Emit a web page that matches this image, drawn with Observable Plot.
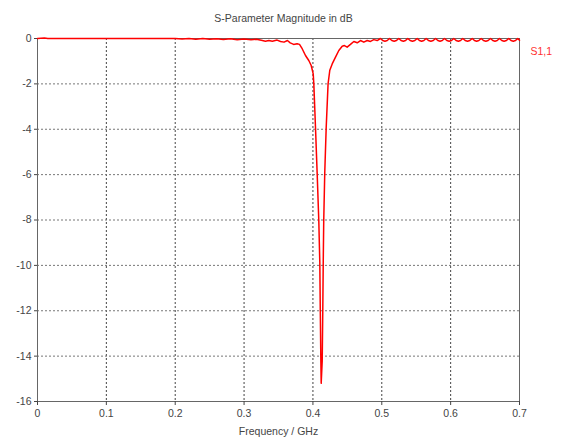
<!DOCTYPE html>
<html>
<head>
<meta charset="utf-8">
<script src="https://cdn.jsdelivr.net/npm/d3@7"></script>
<script src="https://cdn.jsdelivr.net/npm/@observablehq/plot@0.6"></script>
<style>
  html, body { margin: 0; padding: 0; background: white; }
</style>
</head>
<body>
<div id="chart"></div>
<script>
const title = "S-Parameter Magnitude in dB";
const xLabel = "Frequency / GHz";
const seriesName = "S1,1";
const xTicks = [0, 0.1, 0.2, 0.3, 0.4, 0.5, 0.6, 0.7];
const yTicks = [0, -2, -4, -6, -8, -10, -12, -14, -16];

const freq = [
  0, 0.005, 0.01, 0.015, 0.03, 0.06, 0.1, 0.15, 0.2, 0.21, 0.22, 0.23, 0.24, 0.25, 0.26, 0.27, 0.28, 0.29, 0.30, 0.31,
  0.318, 0.325, 0.331, 0.336, 0.341, 0.348, 0.353, 0.358, 0.363, 0.367, 0.372, 0.377, 0.3805, 0.3844, 0.3892, 0.394,
  0.3975, 0.4004, 0.4013, 0.4037, 0.4061, 0.4085, 0.41, 0.4107, 0.4115, 0.412, 0.4135, 0.4143, 0.415, 0.4157, 0.4172,
  0.4193, 0.422, 0.4245, 0.428, 0.4328, 0.4376, 0.4425, 0.4458, 0.4497, 0.4545, 0.4594, 0.4643, 0.4691, 0.4739, 0.4788,
  0.4836, 0.4884, 0.4933,
  0.498, 0.5013, 0.5046, 0.5079, 0.5112, 0.5146, 0.518, 0.5213, 0.5247, 0.528, 0.5313, 0.5345, 0.5378, 0.5412, 0.5446,
  0.548, 0.5514, 0.5547, 0.5579, 0.5611, 0.5644, 0.5678, 0.5713, 0.5747, 0.5781, 0.5814, 0.5846, 0.5878, 0.5911, 0.5945,
  0.5979, 0.6012, 0.6046, 0.6079, 0.6112, 0.6144, 0.6177, 0.6211, 0.6245, 0.6279, 0.6313, 0.6346, 0.6378, 0.641, 0.6443,
  0.6477, 0.6511, 0.6545, 0.6579, 0.6612, 0.6644, 0.6676, 0.6709, 0.6743, 0.6776, 0.681, 0.6844, 0.6877, 0.691, 0.6942,
  0.6975, 0.7
];
const s11 = [
  0, 0.01, 0.02, 0, 0, 0, 0, 0, 0, -0.02, 0, -0.03, 0, -0.03, -0.01, -0.04, -0.01, -0.05, -0.02, -0.06,
  -0.03, -0.08, -0.12, -0.09, -0.12, -0.07, -0.13, -0.16, -0.09, -0.19, -0.26, -0.23, -0.26, -0.45, -0.75, -0.97,
  -1.19, -1.56, -2.0, -3.9, -5.9, -8.0, -9.9, -12.0, -14.2, -15.2, -14.2, -12.0, -9.8, -8.0, -5.9,
  -3.9, -2.0, -1.4, -1.12, -0.82, -0.53, -0.34, -0.31, -0.38, -0.26, -0.13, -0.19, -0.09, -0.16, -0.09,
  -0.13, -0.05, -0.09,
  0, -0.09, -0.12, -0.09, 0, -0.09, -0.12, -0.09, 0, -0.09, -0.12, -0.09, 0, -0.09, -0.12,
  -0.09, 0, -0.09, -0.12, -0.09, 0, -0.09, -0.12, -0.09, 0, -0.09, -0.12, -0.09, 0, -0.09,
  -0.12, -0.09, 0, -0.09, -0.12, -0.09, 0, -0.09, -0.12, -0.09, 0, -0.09, -0.12, -0.09, 0,
  -0.09, -0.12, -0.09, 0, -0.09, -0.12, -0.09, 0, -0.09, -0.12, -0.09, 0, -0.09, -0.12, -0.09,
  0, -0.08
];

const data = freq.map((f, i) => ({f, db: s11[i]}));

const chart = Plot.plot({
  width: 565,
  height: 440,
  marginLeft: 37,
  marginRight: 46,
  marginTop: 38,
  marginBottom: 39,
  style: {fontFamily: "Liberation Sans, sans-serif", fontSize: "10.5px", color: "#444", background: "white"},
  x: {domain: [0, 0.7]},
  y: {domain: [-16, 0]},
  marks: [
    Plot.gridX(xTicks.slice(1, -1), {stroke: "#444", strokeOpacity: 1, strokeDasharray: "2,2"}),
    Plot.gridY(yTicks.slice(1, -1), {stroke: "#777", strokeOpacity: 1, strokeDasharray: "2,2"}),
    Plot.frame({stroke: "#666"}),
    Plot.axisX({ticks: xTicks, tickSize: 4, tickPadding: 4, tickFormat: d => String(d),
      label: xLabel, labelAnchor: "center", labelArrow: "none", labelOffset: 33}),
    Plot.axisY({ticks: yTicks, tickSize: 3, tickPadding: 3, tickFormat: d => String(d), label: null}),
    Plot.line(data, {x: "f", y: "db", stroke: "#ff0000", strokeWidth: 1.5}),
    Plot.text([seriesName], {frameAnchor: "top-right", textAnchor: "start", dx: 11, dy: 9, fill: "#ff3030"}),
    Plot.text([title], {frameAnchor: "top", dy: -24, dx: 5, fill: "#444"})
  ]
});
document.getElementById("chart").appendChild(chart);
</script>
</body>
</html>
